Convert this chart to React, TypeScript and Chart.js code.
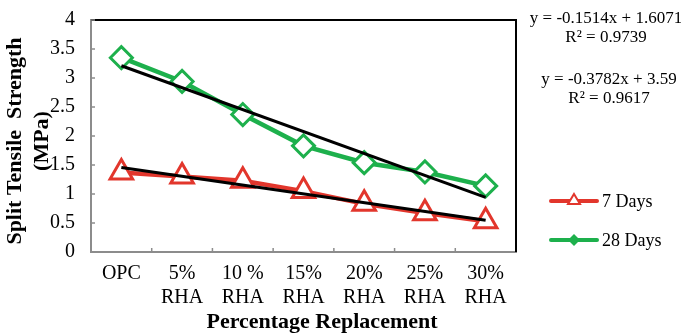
import React, { useEffect, useRef } from 'react';
import { Chart, registerables } from 'chart.js';

Chart.register(...registerables);

const categories: (string | string[])[] = ['OPC', ['5%', 'RHA'], ['10 %', 'RHA'], ['15%', 'RHA'], ['20%', 'RHA'], ['25%', 'RHA'], ['30%', 'RHA']];
const seriesNames = ['7 Days', '28 Days'];
const days7 = [1.37, 1.3, 1.23, 1.05, 0.83, 0.67, 0.53];
const days28 = [3.35, 2.94, 2.37, 1.83, 1.54, 1.38, 1.14];
const trendSlopes = [-0.1514, -0.3782];
const trendIntercepts = [1.6071, 3.59];
const trendR2 = [0.9739, 0.9617];
const yTickValues = [0, 0.5, 1, 1.5, 2, 2.5, 3, 3.5, 4];

const RED = '#E2362C';
const GREEN = '#1DB04C';
const SERIF = '"Liberation Serif", "Times New Roman", serif';

function trendData(i: number): (number | null)[] {
  const n = categories.length;
  return categories.map((_, k) => (k === 0 || k === n - 1 ? trendSlopes[i] * (k + 1) + trendIntercepts[i] : null));
}

const extrasPlugin = {
  id: 'extras',
  afterDraw(chart: any) {
    const { ctx, chartArea } = chart;
    const { left, right, top, bottom } = chartArea;
    const y = chart.scales.y;
    ctx.save();
    // top & right frame
    ctx.strokeStyle = '#000';
    ctx.lineWidth = 2;
    ctx.beginPath();
    ctx.moveTo(left, top);
    ctx.lineTo(right, top);
    ctx.lineTo(right, bottom);
    ctx.stroke();
    // inward ticks
    ctx.strokeStyle = '#8c8c8c';
    ctx.lineWidth = 1.5;
    const n = categories.length;
    const step = (right - left) / n;
    for (let i = 1; i < n; i++) {
      const px = left + i * step;
      ctx.beginPath();
      ctx.moveTo(px, bottom);
      ctx.lineTo(px, bottom - 4);
      ctx.stroke();
    }
    yTickValues.forEach((v) => {
      const py = y.getPixelForValue(v);
      ctx.beginPath();
      ctx.moveTo(left, py);
      ctx.lineTo(left + 4, py);
      ctx.stroke();
    });
    // axis titles
    ctx.fillStyle = '#000';
    ctx.font = `bold 22px ${SERIF}`;
    ctx.textAlign = 'center';
    ctx.textBaseline = 'middle';
    ctx.fillText('Percentage Replacement', 322, 322);
    ctx.save();
    ctx.translate(15, 141);
    ctx.rotate(-Math.PI / 2);
    ctx.fillText('Split Tensile  Strength', 0, 0);
    ctx.fillText('(MPa)', 0, 27);
    ctx.restore();
    // equations
    ctx.font = `17px ${SERIF}`;
    const eqY = [[19, 38], [80, 99]];
    const eqX = [606, 609];
    for (let i = 0; i < 2; i++) {
      ctx.fillText(`y = ${trendSlopes[i]}x + ${trendIntercepts[i]}`, eqX[i], eqY[i][0]);
      ctx.fillText(`R\u00B2 = ${trendR2[i]}`, eqX[i], eqY[i][1]);
    }
    // legend
    const legY = [201, 240];
    const colors = [RED, GREEN];
    ctx.textAlign = 'left';
    ctx.font = `18px ${SERIF}`;
    for (let i = 0; i < 2; i++) {
      const ly = legY[i];
      ctx.strokeStyle = colors[i];
      ctx.lineWidth = 4;
      ctx.lineCap = 'round';
      ctx.beginPath();
      ctx.moveTo(551, ly);
      ctx.lineTo(597, ly);
      ctx.stroke();
      ctx.lineCap = 'butt';
      ctx.fillStyle = colors[i];
      ctx.beginPath();
      if (i === 0) {
        ctx.moveTo(574, ly - 7);
        ctx.lineTo(580, ly + 3);
        ctx.lineTo(568, ly + 3);
        ctx.closePath();
        ctx.lineWidth = 2;
        ctx.fillStyle = '#fff';
        ctx.fill();
        ctx.stroke();
      } else {
        ctx.moveTo(574, ly - 6);
        ctx.lineTo(580, ly);
        ctx.lineTo(574, ly + 6);
        ctx.lineTo(568, ly);
        ctx.closePath();
        ctx.fill();
      }
      ctx.fillStyle = '#000';
      ctx.fillText(seriesNames[i], 602, ly + 1);
    }
    ctx.restore();
  },
};

export default function App() {
  const ref = useRef<HTMLCanvasElement | null>(null);
  useEffect(() => {
    document.body.style.margin = '0';
    const canvas = ref.current;
    if (!canvas) return;
    const chart = new Chart(canvas, {
      type: 'line',
      data: {
        labels: categories as any,
        datasets: [
          {
            label: 'Trend 7',
            data: trendData(0),
            borderColor: '#000',
            borderWidth: 3,
            pointRadius: 0,
            spanGaps: true,
            fill: false,
          },
          {
            label: 'Trend 28',
            data: trendData(1),
            borderColor: '#000',
            borderWidth: 3,
            pointRadius: 0,
            spanGaps: true,
            fill: false,
          },
          {
            label: seriesNames[0],
            data: days7,
            borderColor: RED,
            borderWidth: 4.5,
            pointStyle: 'triangle',
            pointRadius: 13,
            pointBorderWidth: 3,
            pointBackgroundColor: '#fff',
            pointBorderColor: RED,
            fill: false,
          },
          {
            label: seriesNames[1],
            data: days28,
            borderColor: GREEN,
            borderWidth: 4.5,
            pointStyle: 'rectRot',
            pointRadius: 11,
            pointBorderWidth: 3,
            pointBackgroundColor: '#fff',
            pointBorderColor: GREEN,
            fill: false,
          },
        ],
      },
      options: {
        animation: false,
        responsive: true,
        maintainAspectRatio: false,
        layout: { padding: { left: 0, top: 14, right: 165, bottom: 0 } },
        plugins: { legend: { display: false }, tooltip: { enabled: false } },
        elements: { line: { tension: 0 } },
        scales: {
          x: {
            type: 'category',
            offset: true,
            grid: { display: false },
            border: { display: true, color: '#8c8c8c', width: 2 },
            ticks: {
              color: '#000',
              font: { family: SERIF, size: 20, lineHeight: 1.2 },
              padding: 2,
              maxRotation: 0,
              minRotation: 0,
              autoSkip: false,
            },
            afterFit: (s: any) => {
              s.height = 83;
            },
          },
          y: {
            min: 0,
            max: 4,
            grid: { display: false },
            border: { display: true, color: '#8c8c8c', width: 2 },
            ticks: {
              stepSize: 0.5,
              color: '#000',
              font: { family: SERIF, size: 20 },
              padding: 8,
              callback: (v: any) => String(v),
            },
            afterFit: (s: any) => {
              s.width = 91;
            },
          },
        },
      },
      plugins: [extrasPlugin],
    });
    return () => chart.destroy();
  }, []);
  return (
    <div style={{ position: 'relative', width: 681, height: 335, background: '#fff' }}>
      <canvas ref={ref} />
    </div>
  );
}
